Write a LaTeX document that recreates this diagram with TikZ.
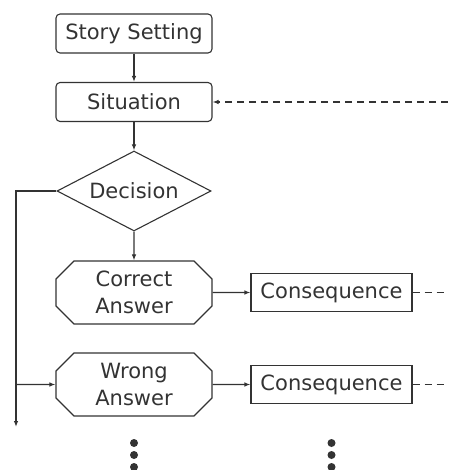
\documentclass[tikz,border=0pt]{standalone}
\usepackage{fontspec}
\setmainfont{DejaVu Sans}
\usetikzlibrary{arrows.meta, shapes.geometric, shapes.misc}

\begin{document}
\begin{tikzpicture}[>={Latex[length=6pt, width=4.5pt]}, x=1pt, y=-1pt,
    color=black!80, line width=1.1pt,
    roundbox/.style={draw, rounded corners=4pt, minimum width=156pt, minimum height=39pt, inner sep=0pt, font=\fontsize{21}{25}\selectfont},
    decision/.style={diamond, draw, minimum width=154pt, minimum height=80pt, shape aspect=1.9, inner sep=0pt, font=\fontsize{21}{25}\selectfont},
    answer/.style={chamfered rectangle, chamfered rectangle xsep=9pt, chamfered rectangle ysep=9pt, draw, minimum width=156pt, minimum height=63pt, inner sep=0pt, align=center, font=\fontsize{21}{27.5}\selectfont},
    result/.style={draw, minimum width=161pt, minimum height=38pt, inner sep=0pt, font=\fontsize{21}{25}\selectfont},
    flow/.style={dashed, dash pattern=on 7pt off 5pt}]
    \useasboundingbox (0, 0) rectangle (448, 470);
    \node [roundbox] (setting) at (134, 33.5) {Story Setting};
    \node [roundbox] (situation) at (134, 102) {Situation};
    \node [decision] (decide) at (134, 191) {Decision};
    \node [answer] (correct) at (134, 292.5) {Correct\\Answer};
    \node [answer] (wrong) at (134, 384.5) {Wrong\\Answer};
    \node [result] (cons1) at (331.5, 292.5) {Consequence};
    \node [result] (cons2) at (331.5, 384.5) {Consequence};
    \coordinate (back) at (448, 102);
    \coordinate (out1) at (448, 292.5);
    \coordinate (out2) at (448, 384.5);
    \coordinate (down) at (16, 427);
    \draw [->] (setting) -- (situation);
    \draw [->] (situation) -- (decide);
    \draw [->] (decide) -- (correct);
    \draw [->] (correct) -- (cons1);
    \draw [->] (wrong) -- (cons2);
    \draw [->, flow] (back) -- (situation);
    \draw [flow] (cons1) -- (out1);
    \draw [flow] (cons2) -- (out2);
    \draw [->] (decide.west) -| (down);
    \draw [->] (wrong.west -| down) -- (wrong);
    \foreach \y in {443, 455, 467} {
        \fill (correct.center |- 0, \y) circle (4pt);
        \fill (cons1.center |- 0, \y) circle (4pt);
    }
\end{tikzpicture}
\end{document}
